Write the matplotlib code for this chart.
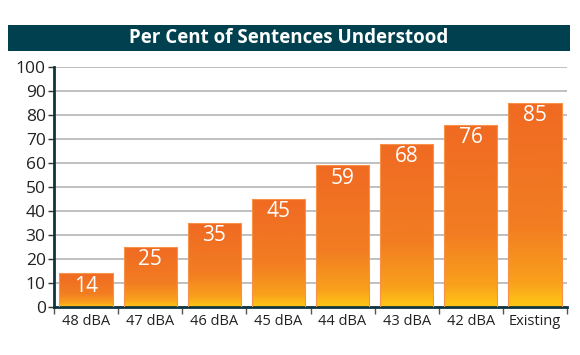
import matplotlib
matplotlib.use("Agg")
import matplotlib.pyplot as plt
import numpy as np
from matplotlib.colors import LinearSegmentedColormap
from matplotlib.patches import Rectangle

categories = ["48 dBA", "47 dBA", "46 dBA", "45 dBA", "44 dBA", "43 dBA", "42 dBA", "Existing"]
values = [14, 25, 35, 45, 59, 68, 76, 85]
yticks = [0, 10, 20, 30, 40, 50, 60, 70, 80, 90, 100]
title = "Per Cent of Sentences Understood"

plt.rcParams['font.family'] = ['Open Sans', 'DejaVu Sans']

fig = plt.figure(figsize=(5.8, 3.55), dpi=100)
W, H = 580, 355
ax = fig.add_axes([54 / W, 1 - 307 / H, (567 - 54) / W, (307 - 67) / H])

# title bar
fig.patches.append(Rectangle((8 / W, 1 - 51 / H), (570 - 8) / W, 26 / H,
                             transform=fig.transFigure, facecolor="#00404F",
                             edgecolor="none", zorder=0))
fig.text((8 + 570) / 2 / W, 1 - 38 / H, title, color="white", fontsize=13.5,
         fontweight="bold", ha="center", va="center")

cmap = LinearSegmentedColormap.from_list(
    "og", [(0.0, "#FFC815"), (0.12, "#F9A01C"), (0.4, "#F27D22"), (1.0, "#F06A22")])
grad = np.linspace(0, 1, 256).reshape(-1, 1)

x = np.arange(len(categories))
bw = 0.83
bars = ax.bar(x, values, width=bw, color="none", edgecolor="#F7924A", linewidth=0.8, zorder=3)
for b, v in zip(bars, values):
    x0 = b.get_x()
    im = ax.imshow(grad, cmap=cmap, origin="lower", aspect="auto",
                   extent=(x0, x0 + bw, 0, v), zorder=2)
    im.set_clip_path(b)
    ax.text(b.get_x() + bw / 2, v - 1.0, str(v), ha="center", va="top",
            color="white", fontsize=15, zorder=4)

ax.set_xlim(-0.5, len(categories) - 0.5)
ax.set_ylim(0, 100)
ax.set_yticks(yticks)
ax.set_yticklabels([str(t) for t in yticks], fontsize=12.5, color="#222222")
ax.yaxis.grid(True, color="#B5B5B5", linewidth=1.2, zorder=0)
ax.set_axisbelow(True)

ax.set_xticks(x)
ax.set_xticklabels(categories, fontsize=10.5, color="#222222")
ax.tick_params(axis="x", length=0, pad=5)
ax.set_xticks(np.arange(-0.5, len(categories) + 0.5, 1), minor=True)
ax.tick_params(axis="x", which="minor", length=5, color="#555555", width=1)
ax.tick_params(axis="y", length=4, color="#333333", width=1, pad=2)

for s in ["top", "right"]:
    ax.spines[s].set_visible(False)
ax.spines["left"].set_color("#0E3440")
ax.spines["left"].set_linewidth(2)
ax.spines["bottom"].set_color("#0E3440")
ax.spines["bottom"].set_linewidth(2)

fig.savefig("out.png", dpi=100)
